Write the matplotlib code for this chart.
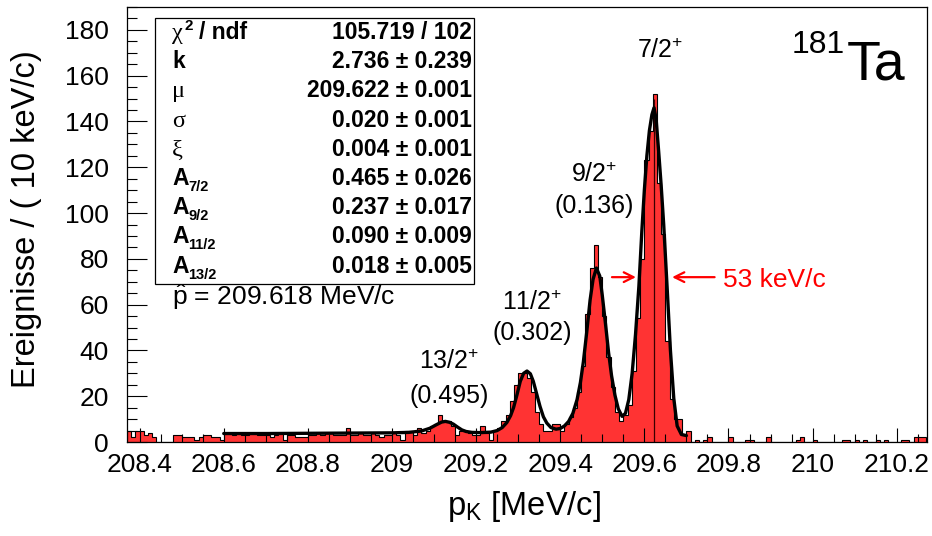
import matplotlib
matplotlib.use("Agg")
import matplotlib.pyplot as plt
import numpy as np
from matplotlib.ticker import MultipleLocator
from matplotlib.patches import Rectangle

plt.rcParams['font.family'] = ['Liberation Sans', 'DejaVu Sans']
plt.rcParams['mathtext.fontset'] = 'custom'
plt.rcParams['mathtext.rm'] = 'Liberation Sans'
plt.rcParams['mathtext.it'] = 'Liberation Sans:italic'
plt.rcParams['mathtext.bf'] = 'Liberation Sans:bold'

# ---------------- data ----------------
bin_start = 208.37   # MeV/c, lower edge of first bin
bin_width = 0.01     # 10 keV/c
counts = [
    5, 2, 5, 5, 3, 4, 2, 0, 0, 0,        # 208.37 - 208.46
    0, 3, 3, 2, 2, 2, 1, 2, 3, 3,        # 208.47 - 208.56
    2, 2, 1, 4, 4, 3, 4, 3, 3, 4,        # 208.57 - 208.66
    4, 3, 3, 3, 2, 3, 4, 1, 3, 3,        # 208.67 - 208.76
    2, 2, 2, 3, 3, 4, 3, 4, 4, 3,        # 208.77 - 208.86
    3, 3, 6, 3, 3, 4, 3, 3, 4, 3,        # 208.87 - 208.96
    2, 3, 3, 4, 3, 1, 5, 5, 3, 6,        # 208.97 - 209.06
    4, 5, 7, 8, 12, 9, 9, 7, 3, 5,       # 209.07 - 209.16
    5, 4, 3, 3, 7, 4, 1, 5, 6, 9,        # 209.17 - 209.26
    12, 18, 25, 30, 30, 28, 22, 13, 8, 5, # 209.27 - 209.36
    5, 8, 8, 5, 8, 11, 15, 22, 33, 56,   # 209.37 - 209.46
    76, 86, 72, 55, 37, 24, 13, 9, 12, 16, # 209.47 - 209.56
    31, 54, 80, 123, 136, 152, 113, 91, 44, 19, # 209.57 - 209.66
    10, 10, 3, 5, 0, 1, 0, 1, 2, 0,      # 209.67 - 209.76
    0, 0, 0, 2, 0, 0, 0, 1, 1, 0,        # 209.77 - 209.86
    0, 0, 2, 0, 0, 0, 0, 0, 0, 1,        # 209.87 - 209.96
    2, 0, 0, 1, 0, 0, 0, 0, 0, 0,        # 209.97 - 210.06
    1, 1, 0, 1, 0, 1, 0, 0, 1, 0,        # 210.07 - 210.16
    1, 0, 0, 0, 1, 1, 0, 2, 2, 2,        # 210.17 - 210.26
]

# fit curve
curve_x = [208.60, 208.70, 208.80, 208.90, 209.00, 209.04, 209.07, 209.09, 209.106,
           209.118, 209.127, 209.137, 209.146, 209.156, 209.166, 209.176, 209.19,
           209.21, 209.235, 209.25, 209.262, 209.273, 209.282, 209.289, 209.297,
           209.305, 209.313, 209.321, 209.329, 209.336, 209.344, 209.352, 209.36,
           209.368, 209.378, 209.39, 209.40, 209.41, 209.42, 209.43, 209.44,
           209.448, 209.455, 209.463, 209.471, 209.478, 209.486, 209.494, 209.50,
           209.508, 209.515, 209.522, 209.53, 209.538, 209.547, 209.555, 209.563,
           209.571, 209.579, 209.587, 209.594, 209.60, 209.606, 209.612, 209.618,
           209.623, 209.628, 209.634, 209.64, 209.646, 209.654, 209.662, 209.67,
           209.678, 209.688, 209.70]
curve_y = [3.7, 3.7, 3.8, 3.9, 4.0, 4.2, 4.8, 6.0, 7.6,
           8.7, 9.0, 8.6, 7.8, 6.5, 5.3, 4.6, 4.2,
           4.1, 4.3, 5.0, 6.3, 8.5, 11.5, 15.0, 20.5,
           26.5, 30.0, 31.0, 29.8, 26.5, 21.0, 15.5, 11.0,
           8.3, 6.3, 5.6, 5.9, 7.0, 9.0, 12.5, 18.5,
           26.0, 35.0, 48.0, 62.0, 71.0, 76.0, 72.5, 64.0,
           51.0, 39.0, 29.0, 20.5, 14.5, 11.2, 12.5, 18.5,
           30.0, 47.0, 68.0, 92.0, 110.0, 125.0, 136.0, 143.0,
           146.0, 141.0, 127.0, 112.0, 95.0, 68.0, 40.0, 19.0,
           7.0, 3.3, 2.8]

mu_line = 209.622
mu_line_top = 150

x_ticks = [208.4, 208.6, 208.8, 209.0, 209.2, 209.4, 209.6, 209.8, 210.0, 210.2]
x_tick_labels = ["208.4", "208.6", "208.8", "209", "209.2", "209.4", "209.6",
                 "209.8", "210", "210.2"]
y_ticks = [0, 20, 40, 60, 80, 100, 120, 140, 160, 180]

stat_values = ["105.719 / 102", "2.736 \u00b1 0.239", "209.622 \u00b1 0.001",
               "0.020 \u00b1 0.001", "0.004 \u00b1 0.001", "0.465 \u00b1 0.026",
               "0.237 \u00b1 0.017", "0.090 \u00b1 0.009", "0.018 \u00b1 0.005"]
greek_rows = {2: "\u03bc", 3: "\u03c3", 4: "\u03be"}
amp_subscripts = {5: "7/2", 6: "9/2", 7: "11/2", 8: "13/2"}

peak_names = ["7/2$^{+}$", "9/2$^{+}$", "11/2$^{+}$", "13/2$^{+}$"]
peak_ratios = ["", "(0.136)", "(0.302)", "(0.495)"]
peak_label_x = [209.638, 209.481, 209.333, 209.137]
peak_name_y = [167.7, 113.7, 57.6, 31.8]
peak_ratio_y = [None, 99.9, 44.5, 17.0]

p_hat_text = r"$\hat{\mathrm{p}}$ = 209.618 MeV/c"
fwhm_text = "53 keV/c"
fwhm_y = 72
fwhm_left = (209.523, 209.580)
fwhm_right = (209.767, 209.666)

# ---------------- figure ----------------
W, H = 932, 536
fig = plt.figure(figsize=(W / 100, H / 100), dpi=100)
ax = fig.add_axes([127 / W, 1 - 442 / H, 800 / W, 435 / H])

edges = bin_start + bin_width * np.arange(len(counts) + 1)
ax.stairs(counts, edges, fill=True, color='#ff3333', zorder=1, linewidth=0)
ax.stairs(counts, edges, color='black', linewidth=0.8, zorder=2)
ax.vlines(mu_line, 0, mu_line_top, color='#3a0000', lw=0.9, zorder=2.5)
ax.plot(curve_x, curve_y, color='black', lw=2.4, zorder=3, solid_joinstyle='round',
        solid_capstyle='round')

ax.set_xlim(208.37, 210.272)
ax.set_ylim(0, 190)
ax.set_xticks(x_ticks)
ax.set_xticklabels(x_tick_labels)
ax.set_yticks(y_ticks)
ax.xaxis.set_minor_locator(MultipleLocator(0.05))
ax.yaxis.set_minor_locator(MultipleLocator(5))
ax.tick_params(axis='both', which='both', direction='in', top=False, right=False)
ax.tick_params(axis='x', which='major', length=10, width=0.8, labelsize=19, pad=8)
ax.tick_params(axis='x', which='minor', length=5.5, width=0.8)
ax.tick_params(axis='y', which='major', length=14.5, width=0.8, labelsize=19, pad=13)
ax.tick_params(axis='y', which='minor', length=7.5, width=0.8)
for s in ax.spines.values():
    s.set_linewidth(0.9)

fig.text(524 / W, 1 - 515 / H, r"p$_{\mathrm{K}}$ [MeV/c]", fontsize=23.5,
         ha='center', va='baseline')
fig.text(27 / W, 1 - 219 / H, "Ereignisse / ( 10 keV/c)", fontsize=23.5,
         rotation=90, ha='center', va='center')

# stats box
def axy(py):
    return (442 - py) / 435

def axx(px):
    return (px - 127) / 800

box = Rectangle((axx(155), axy(284)), axx(474) - axx(155), axy(18) - axy(284),
                transform=ax.transAxes, facecolor='white', edgecolor='black',
                lw=0.9, zorder=5)
ax.add_patch(box)
fs = 16.5
xl = axx(172)
xr = axx(472)
for i, val in enumerate(stat_values):
    yb = axy(39 + 29.2 * i)
    ax.text(xr, yb, val, transform=ax.transAxes, ha='right', va='baseline',
            fontsize=fs, fontweight='bold', zorder=6)
    if i == 0:
        ax.text(xl, yb, "\u03c7", transform=ax.transAxes, ha='left', va='baseline',
                fontsize=fs + 1, family='Liberation Serif', zorder=6)
        ax.annotate("2", xy=(xl, yb), xycoords='axes fraction', xytext=(9, 6.5),
                    textcoords='offset points', fontsize=11, fontweight='bold',
                    va='baseline', ha='left', zorder=6)
        ax.annotate("/ ndf", xy=(xl, yb), xycoords='axes fraction', xytext=(19.5, 0),
                    textcoords='offset points', fontsize=fs, fontweight='bold',
                    va='baseline', ha='left', zorder=6)
    elif i == 1:
        ax.text(xl, yb, "k", transform=ax.transAxes, ha='left', va='baseline',
                fontsize=fs, fontweight='bold', zorder=6)
    elif i in greek_rows:
        ax.text(xl, yb, greek_rows[i], transform=ax.transAxes, ha='left',
                va='baseline', fontsize=fs + 1, family='Liberation Serif', zorder=6)
    else:
        ax.text(xl, yb, "A", transform=ax.transAxes, ha='left', va='baseline',
                fontsize=fs, fontweight='bold', zorder=6)
        ax.annotate(amp_subscripts[i], xy=(xl, yb), xycoords='axes fraction',
                    xytext=(11.8, -4.3), textcoords='offset points', fontsize=10.5,
                    fontweight='bold', va='baseline', ha='left', zorder=6)

ax.text(xl, axy(305), p_hat_text, transform=ax.transAxes, ha='left',
        va='baseline', fontsize=19)

# peak labels
for name, ratio, x, yn, yr in zip(peak_names, peak_ratios, peak_label_x,
                                  peak_name_y, peak_ratio_y):
    ax.text(x, yn, name, ha='center', va='baseline', fontsize=18, zorder=4)
    if ratio:
        ax.text(x, yr, ratio, ha='center', va='baseline', fontsize=18, zorder=4)

# FWHM arrows
arrow_kw = dict(arrowstyle='->,head_length=0.7,head_width=0.35', color='red',
                lw=1.6, shrinkA=0, shrinkB=0)
ax.annotate('', xy=(fwhm_left[1], fwhm_y), xytext=(fwhm_left[0], fwhm_y),
            arrowprops=arrow_kw, zorder=4)
ax.annotate('', xy=(fwhm_right[1], fwhm_y), xytext=(fwhm_right[0], fwhm_y),
            arrowprops=arrow_kw, zorder=4)
ax.text(209.786, 67.7, fwhm_text, color='red', fontsize=19, ha='left',
        va='baseline', zorder=4)

# nucleus label
ax.text(axx(847), axy(80), "Ta", transform=ax.transAxes, fontsize=40,
        ha='left', va='baseline')
ax.text(axx(845), axy(53), "181", transform=ax.transAxes, fontsize=23,
        ha='right', va='baseline')

fig.savefig("out.png", dpi=100)
